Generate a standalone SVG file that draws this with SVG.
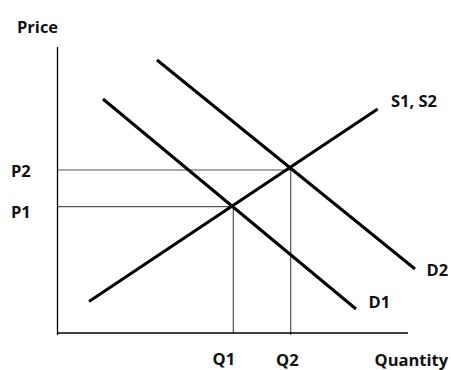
<svg xmlns="http://www.w3.org/2000/svg" width="451" height="370" viewBox="0 0 451 370">
<style>
text{font-family:"Open Sans","Liberation Sans",sans-serif;font-weight:bold;font-size:16.5px;fill:#111}
.axis{stroke:#000;stroke-width:1.3;fill:none}
.guide{stroke:#555;stroke-width:1.2;fill:none}
.curve{stroke:#000;stroke-width:3;fill:none}
</style>
<rect width="451" height="370" fill="#fff"/>
<g id="connectors">
<line class="guide" x1="57" y1="170" x2="291" y2="170"/>
<line class="guide" x1="57" y1="206.7" x2="233" y2="206.7"/>
<line class="guide" x1="233.3" y1="206.7" x2="233.3" y2="333"/>
<line class="guide" x1="290.7" y1="170" x2="290.7" y2="335"/>
<line class="axis" x1="57.5" y1="47" x2="57.5" y2="335"/>
<line class="axis" x1="57" y1="333" x2="408" y2="333"/>
</g>
<g id="supply"><line class="curve" x1="89" y1="301.5" x2="377.7" y2="109"/><text x="391" y="106.5">S1, S2</text></g>
<g id="demand1"><line class="curve" x1="103" y1="99" x2="356" y2="309"/><text x="368.5" y="307.5">D1</text></g>
<g id="demand2"><line class="curve" x1="157" y1="60" x2="415" y2="269"/><text x="426.5" y="275.5">D2</text></g>
<g id="price-label"><text x="17" y="33">Price</text></g>
<g id="quantity-label"><text x="374.5" y="365.5">Quantity</text></g>
<g id="p2"><text x="11" y="176.5">P2</text></g>
<g id="p1"><text x="11" y="217.5">P1</text></g>
<g id="q1"><text x="212.5" y="365">Q1</text></g>
<g id="q2"><text x="276" y="366">Q2</text></g>
</svg>
